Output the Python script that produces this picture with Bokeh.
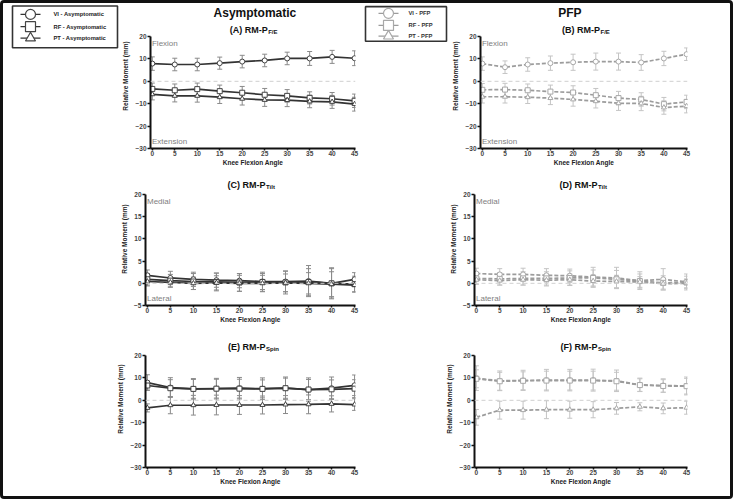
from bokeh.plotting import figure
from bokeh.layouts import column, row
from bokeh.models import Range1d, Span, Label, Whisker, TeeHead, ColumnDataSource, FixedTicker
from bokeh.core.properties import value
from bokeh.embed import file_html
from bokeh.resources import INLINE

FONT = "Liberation Sans"

# ---------------- data ----------------
angles = [0, 5, 10, 15, 20, 25, 30, 35, 40, 45]
yticks_big = [-30, -20, -10, 0, 10, 20]
yticks_small = [-5, 0, 5, 10, 15, 20]

asym_labels = ["VI - Asymptomatic", "RF - Asymptomatic", "PT - Asymptomatic"]
pfp_labels = ["VI - PFP", "RF - PFP", "PT - PFP"]
group_titles = ["Asymptomatic", "PFP"]
panel_titles = ["(A) RM-P", "(B) RM-P", "(C) RM-P", "(D) RM-P", "(E) RM-P", "(F) RM-P"]
panel_subs = ["F/E", "F/E", "Tilt", "Tilt", "Spin", "Spin"]
direction_labels = [("Flexion", "Extension"), ("Flexion", "Extension"),
                    ("Medial", "Lateral"), ("Medial", "Lateral"), None, None]

# (A) asymptomatic F/E
A_vi = [7.9, 7.5, 7.5, 8.1, 8.8, 9.3, 10.2, 10.2, 10.9, 10.3]
A_vi_sd = [3.0, 2.8, 2.8, 2.7, 2.8, 2.8, 2.8, 3.1, 2.9, 3.3]
A_rf = [-3.4, -4.0, -3.5, -4.4, -5.1, -6.0, -6.5, -7.4, -7.8, -8.7]
A_rf_sd = [2.6, 2.8, 2.7, 2.7, 2.8, 2.8, 2.8, 2.7, 2.8, 3.0]
A_pt = [-5.8, -6.5, -6.5, -7.1, -7.8, -8.3, -8.4, -9.0, -9.2, -10.2]
A_pt_sd = [2.5, 2.7, 2.8, 2.8, 2.8, 2.9, 2.9, 2.8, 2.9, 3.1]
# (B) PFP F/E
B_vi = [7.9, 6.3, 7.5, 8.1, 8.5, 8.8, 8.8, 8.4, 10.2, 12.1]
B_vi_sd = [3.0, 2.8, 3.0, 3.2, 3.6, 3.8, 3.8, 3.5, 3.2, 2.8]
B_rf = [-3.8, -3.7, -4.0, -4.6, -5.0, -6.2, -7.5, -8.1, -10.2, -9.2]
B_rf_sd = [2.8, 2.8, 2.8, 2.9, 3.0, 3.0, 3.0, 3.0, 3.0, 3.0]
B_pt = [-6.9, -6.9, -7.1, -7.5, -8.1, -8.9, -9.8, -9.9, -11.7, -11.1]
B_pt_sd = [2.8, 2.8, 2.8, 2.9, 3.0, 3.0, 3.2, 3.2, 3.0, 3.0]
# (C) asymptomatic tilt
C_vi = [1.8, 1.2, 0.9, 0.7, 0.6, 0.4, 0.4, 0.5, 0.0, 0.9]
C_vi_sd = [1.2, 1.5, 1.6, 1.6, 1.6, 1.8, 2.3, 3.5, 3.5, 1.5]
C_rf = [0.9, 0.6, 0.4, 0.3, 0.2, 0.3, 0.2, 0.3, 0.0, -0.2]
C_rf_sd = [1.3, 1.4, 1.8, 2.0, 2.0, 2.2, 2.6, 3.0, 3.3, 1.8]
C_pt = [0.4, 0.2, 0.0, 0.1, 0.0, 0.0, 0.1, 0.0, -0.2, -0.4]
C_pt_sd = [1.0, 1.1, 1.4, 1.6, 1.8, 1.8, 2.0, 2.4, 2.8, 1.5]
# (D) PFP tilt
D_vi = [2.2, 2.0, 2.0, 1.8, 1.7, 1.4, 1.2, 0.6, 0.9, 0.3]
D_vi_sd = [1.2, 1.3, 1.4, 1.5, 1.5, 2.2, 2.4, 2.0, 2.4, 1.8]
D_rf = [1.1, 1.0, 1.1, 1.1, 1.2, 1.2, 0.9, 0.5, 0.1, 0.2]
D_rf_sd = [1.3, 1.4, 1.5, 1.5, 1.6, 1.8, 2.0, 1.6, 1.6, 1.4]
D_pt = [0.8, 0.6, 0.8, 0.7, 0.8, 0.5, 0.4, 0.3, -0.1, 0.0]
D_pt_sd = [1.0, 1.0, 1.2, 1.3, 1.3, 1.4, 1.4, 1.2, 1.2, 1.0]
# (E) asymptomatic spin
E_vi = [7.9, 5.7, 5.1, 5.2, 5.4, 5.2, 5.4, 4.8, 5.4, 6.7]
E_vi_sd = [3.5, 4.4, 4.6, 4.6, 4.8, 4.8, 5.0, 5.2, 5.0, 4.6]
E_rf = [6.6, 5.4, 5.1, 5.2, 5.2, 5.1, 5.4, 4.8, 4.9, 5.2]
E_rf_sd = [2.0, 3.8, 4.2, 4.2, 4.2, 4.0, 4.5, 4.5, 4.2, 4.0]
E_pt = [-3.4, -2.2, -2.2, -2.1, -2.1, -2.1, -1.9, -1.8, -1.6, -1.9]
E_pt_sd = [1.8, 3.8, 4.4, 4.4, 4.2, 4.0, 4.0, 4.2, 3.6, 2.6]
# (F) PFP spin
F_vi = [9.9, 8.7, 8.9, 9.0, 9.0, 9.0, 8.7, 6.9, 6.6, 6.4]
F_vi_sd = [5.5, 4.4, 4.5, 4.8, 4.8, 4.9, 4.8, 3.0, 3.0, 4.0]
F_rf = [9.6, 8.5, 8.7, 8.8, 8.8, 8.8, 8.5, 6.8, 6.4, 6.3]
F_rf_sd = [4.0, 4.0, 4.0, 4.2, 4.2, 4.2, 4.0, 2.8, 2.8, 3.5]
F_pt = [-7.6, -4.4, -4.4, -4.2, -4.2, -4.2, -3.6, -2.9, -3.6, -3.3]
F_pt_sd = [3.5, 4.0, 4.0, 4.0, 3.8, 3.6, 2.6, 1.8, 2.4, 2.9]

panel_series = [
    [(A_vi, A_vi_sd), (A_rf, A_rf_sd), (A_pt, A_pt_sd)],
    [(B_vi, B_vi_sd), (B_rf, B_rf_sd), (B_pt, B_pt_sd)],
    [(C_vi, C_vi_sd), (C_rf, C_rf_sd), (C_pt, C_pt_sd)],
    [(D_vi, D_vi_sd), (D_rf, D_rf_sd), (D_pt, D_pt_sd)],
    [(E_vi, E_vi_sd), (E_rf, E_rf_sd), (E_pt, E_pt_sd)],
    [(F_vi, F_vi_sd), (F_rf, F_rf_sd), (F_pt, F_pt_sd)],
]
markers = ["circle", "square", "triangle"]
ylims = [(-30, 20), (-30, 20), (-5, 20), (-5, 20), (-30, 20), (-30, 20)]
yticksets = [yticks_big, yticks_big, yticks_small, yticks_small, yticks_big, yticks_big]

# ---------------- styles / layout ----------------
ASYM = dict(line="#333333", marker="#444444", err="#8a8a8a", dash="solid")
PFP = dict(line="#9c9c9c", marker="#a8a8a8", err="#c4c4c4", dash="4 2")
XR = (-0.4, 45.2)

# canvas width, height, frame left, frame width, axis top px, axis bottom px
specs = [
    (243, 169, 26, 210, 33, 145),   # A
    (281, 169, 25, 213, 33, 145),   # B
    (359, 158, 142, 210, 22, 133),  # C
    (368, 158, 112, 213, 22, 133),  # D
    (359, 166, 142, 210, 25, 137),  # E
    (368, 166, 112, 213, 25, 137),  # F
]
# right end of main title text, vertical centre (canvas px)
title_pos = [(146, 26), (148, 26), (262, 12), (235, 12), (262, 16), (235, 16)]
heading_pos = [(133, 9), (117, 9)]


def make_panel(spec, ylim, yticks):
    w, h, fl, fw, at, ab = spec
    ymin, ymax = ylim
    ytop = ymax + at * (ymax - ymin) / (ab - at)
    p = figure(width=w, height=h, x_range=Range1d(*XR), y_range=Range1d(ymin, ytop),
               output_backend="svg", toolbar_location=None, title_location=None,
               min_border_left=fl, min_border_right=w - fl - fw, min_border_top=0,
               min_border_bottom=h - ab)
    p.outline_line_color = None
    p.xgrid.visible = False
    p.ygrid.visible = False
    p.background_fill_color = "white"
    p.border_fill_color = "white"
    p.xaxis.ticker = FixedTicker(ticks=angles)
    p.yaxis.ticker = FixedTicker(ticks=yticks)
    p.yaxis.bounds = (ymin, ymax)
    p.xaxis.axis_label = "Knee Flexion Angle"
    p.yaxis.axis_label = "Relative Moment (mm)"
    for ax in (p.xaxis[0], p.yaxis[0]):
        ax.axis_line_width = 2
        ax.axis_line_color = "#111"
        ax.major_tick_line_width = 1.5
        ax.major_tick_line_color = "#111"
        ax.major_tick_out = 3
        ax.major_tick_in = 0
        ax.minor_tick_out = 0
        ax.minor_tick_in = 0
        ax.major_label_text_font = FONT
        ax.major_label_text_font_size = "6.5px"
        ax.major_label_text_font_style = "bold"
        ax.major_label_text_color = "#444"
        ax.major_label_standoff = 1
        ax.axis_label_text_font = FONT
        ax.axis_label_text_font_size = "6.5px"
        ax.axis_label_text_font_style = "bold"
        ax.axis_label_text_color = "#222"
        ax.axis_label_standoff = 3
    xa = p.xaxis[0]
    xa.major_tick_out = 2
    xa.major_label_standoff = 0
    xa.axis_label_standoff = 0
    geom = dict(fl=fl, fw=fw, fh=ab, xr=XR, yr=(ymin, ytop), at=at, ab=ab)
    return p, geom


def to_data(g, px, py):
    x0, x1 = g["xr"]
    y0, y1 = g["yr"]
    x = x0 + (px - g["fl"]) / g["fw"] * (x1 - x0)
    y = y1 - py / g["fh"] * (y1 - y0)
    return x, y


def draw_series(p, ys, sds, marker, st):
    src = ColumnDataSource(dict(x=angles, y=ys,
                                lo=[a - b for a, b in zip(ys, sds)],
                                hi=[a + b for a, b in zip(ys, sds)]))
    wk = Whisker(source=src, base="x", upper="hi", lower="lo",
                 line_color=st["err"], line_width=1,
                 upper_head=TeeHead(size=5, line_color=st["err"], line_width=1),
                 lower_head=TeeHead(size=5, line_color=st["err"], line_width=1))
    p.add_layout(wk)
    p.line("x", "y", source=src, line_color=st["line"], line_width=1.7,
           line_dash=st["dash"])
    p.scatter("x", "y", source=src, marker=marker, size=5, fill_color="white",
              line_color=st["marker"], line_width=1)


def add_text(p, g, px, py, text, size, style="bold", align="left",
             baseline="middle", color="#111"):
    x, y = to_data(g, px, py)
    p.add_layout(Label(x=x, y=y, text=text, text_font=FONT, text_font_size=size,
                       text_font_style=style, text_align=align,
                       text_baseline=baseline, text_color=color))


panels = []
for i in range(6):
    p, g = make_panel(specs[i], ylims[i], yticksets[i])
    st = ASYM if i % 2 == 0 else PFP
    p.add_layout(Span(location=0, dimension="width", line_color="#cfcfcf",
                      line_width=1, line_dash="4 3"))
    for (ys, sds), m in zip(panel_series[i], markers):
        draw_series(p, ys, sds, m, st)
    tx, ty = title_pos[i]
    add_text(p, g, tx, ty, panel_titles[i], "9px", align="right")
    add_text(p, g, tx + 0.5, ty + 2.5, panel_subs[i], "6px", align="left")
    if direction_labels[i] is not None:
        top_t, bot_t = direction_labels[i]
        add_text(p, g, g["fl"] + 1.5, g["at"] + 2, top_t, "8px", style="normal",
                 baseline="top", color="#808080")
        add_text(p, g, g["fl"] + 1.5, g["ab"] - 3, bot_t, "8px", style="normal",
                 baseline="bottom", color="#808080")
    panels.append((p, g))

for k in range(2):
    p, g = panels[k]
    hx, hy = heading_pos[k]
    add_text(p, g, hx, hy, group_titles[k], "12px", align="center")


# ---------------- legend strips ----------------
def legend_strip(w, h, box, line_x, marker_x, text_x, rows, labels, st, text_color):
    s = figure(width=w, height=h, x_range=Range1d(0, w), y_range=Range1d(h, 0),
               output_backend="svg", toolbar_location=None, title_location=None,
               x_axis_location=None, y_axis_location=None, min_border=0)
    s.outline_line_color = None
    s.xgrid.visible = False
    s.ygrid.visible = False
    s.border_fill_color = "white"
    bx0, bx1, by0, by1 = box
    s.quad(left=[bx0], right=[bx1], top=[by0], bottom=[by1], fill_color="white",
           line_color="#333", line_width=1.6)
    for ry, lab, m in zip(rows, labels, markers):
        s.segment(x0=[line_x[0]], x1=[line_x[1]], y0=[ry], y1=[ry],
                  line_color=st["line"], line_width=1.2)
        s.scatter(x=[marker_x], y=[ry], marker=m, size=10, fill_color="white",
                  line_color=st["marker"], line_width=1.2)
        s.text(x=[text_x], y=[ry], text=[lab], text_font=value(FONT),
               text_font_size=value("5.8px"), text_font_style="bold",
               text_baseline="middle", text_align="left", text_color=text_color)
    return s


strip1 = legend_strip(116, 169, (9, 114, 3, 51.5), (17, 37), 27, 50,
                      [12.7, 27, 40.3], asym_labels, ASYM, "#222")
strip2 = legend_strip(87, 169, (3, 84, 3.7, 44), (16, 36), 26, 46,
                      [11.5, 25.5, 38], pfp_labels, PFP, "#333")

row1 = row(strip1, panels[0][0], strip2, panels[1][0])
row2 = row(panels[2][0], panels[3][0])
row3 = row(panels[4][0], panels[5][0])
layout = column(row1, row2, row3,
                styles={"border": "3px solid #111", "border-radius": "4px"})

open("out.html", "w").write(file_html(layout, INLINE))
